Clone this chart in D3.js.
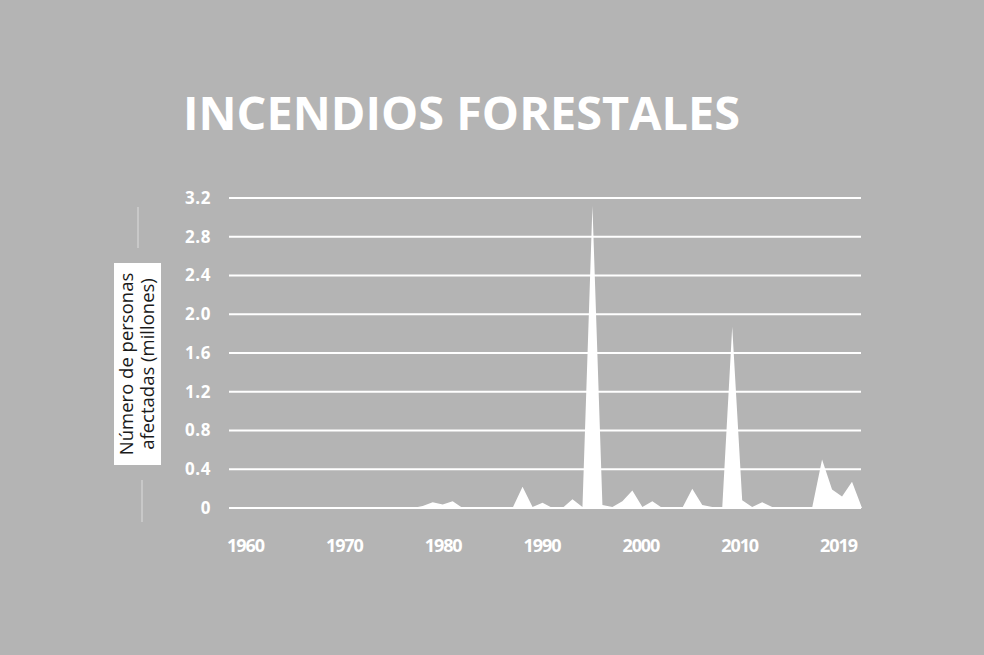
<!DOCTYPE html>
<html>
<head>
<meta charset="utf-8">
<script src="https://cdn.jsdelivr.net/npm/d3@7/dist/d3.min.js"></script>
<style>
  html, body { margin: 0; padding: 0; background: #b4b4b4; }
  svg { display: block; }
</style>
</head>
<body>
<script>
// ---- Data ----
const years = d3.range(1960, 2023);
const values = [
  // 1960-1969
  0, 0, 0, 0, 0, 0, 0, 0, 0, 0,
  // 1970-1979
  0, 0, 0, 0, 0, 0, 0, 0, 0.02, 0.06,
  // 1980-1989
  0.035, 0.07, 0, 0, 0, 0, 0, 0, 0.22, 0.01,
  // 1990-1999
  0.055, 0, 0, 0.09, 0.01, 3.12, 0.03, 0.01, 0.07, 0.18,
  // 2000-2009
  0.01, 0.07, 0, 0, 0, 0.2, 0.03, 0.01, 0, 1.87,
  // 2010-2019
  0.08, 0.01, 0.06, 0.01, 0, 0, 0, 0, 0.5, 0.19,
  // 2020-2022
  0.12, 0.27, 0
];
const yTicks = [0, 0.4, 0.8, 1.2, 1.6, 2.0, 2.4, 2.8, 3.2];
const xLabels = ["1960", "1970", "1980", "1990", "2000", "2010", "2019"];
const title = "INCENDIOS FORESTALES";
const yTitle = ["Número de personas", "afectadas (millones)"];

const data = years.map((yr, i) => ({ year: yr, value: values[i] }));

// ---- Layout ----
const W = 984, H = 655;
const svg = d3.select("body").append("svg").attr("width", W).attr("height", H);
svg.append("rect").attr("width", W).attr("height", H).attr("fill", "#b4b4b4");

const x = d3.scaleLinear().domain([1960, 2022]).range([243, 862]);
const y = d3.scaleLinear().domain([0, 3.2]).range([508, 198]);
const xl = d3.scalePoint().domain(xLabels).range([245, 838]);

const font = "'Open Sans', sans-serif";

// Title
svg.append("text")
  .attr("x", 183).attr("y", 130)
  .attr("font-family", font).attr("font-weight", 700)
  .attr("font-size", 47)
  .attr("textLength", 557).attr("lengthAdjust", "spacingAndGlyphs")
  .attr("fill", "#fff")
  .text(title);

// Gridlines
svg.append("g")
  .selectAll("line").data(yTicks).join("line")
  .attr("x1", 229).attr("x2", 861)
  .attr("y1", d => y(d)).attr("y2", d => y(d))
  .attr("stroke", "#fff").attr("stroke-width", 2);

// Area
const area = d3.area()
  .x(d => x(d.year))
  .y0(y(0))
  .y1(d => y(d.value));
svg.append("path").datum(data)
  .attr("d", area)
  .attr("fill", "#fff");

// Y axis
const yAxis = svg.append("g")
  .attr("transform", "translate(229,0)")
  .call(d3.axisLeft(y).tickValues(yTicks).tickSize(0).tickPadding(18)
    .tickFormat(d => d === 0 ? "0" : d3.format(".1f")(d)));
yAxis.select(".domain").remove();
yAxis.selectAll("text")
  .attr("font-family", font).attr("font-weight", 700)
  .attr("font-size", 17).attr("letter-spacing", 0.6)
  .attr("fill", "#fff");

// X axis labels
const xAxis = svg.append("g")
  .attr("transform", "translate(0,508)")
  .call(d3.axisBottom(xl).tickSize(0).tickPadding(31));
xAxis.select(".domain").remove();
xAxis.selectAll("text")
  .attr("font-family", font).attr("font-weight", 700)
  .attr("font-size", 18).attr("letter-spacing", -1.1)
  .attr("fill", "#fff");

// Y title box and lines
svg.append("line").attr("x1", 138).attr("x2", 138).attr("y1", 207).attr("y2", 248)
  .attr("stroke", "#dcdcdc").attr("stroke-width", 1);
svg.append("line").attr("x1", 142).attr("x2", 142).attr("y1", 480).attr("y2", 522)
  .attr("stroke", "#dcdcdc").attr("stroke-width", 1);
svg.append("rect").attr("x", 114).attr("y", 263).attr("width", 47).attr("height", 202)
  .attr("fill", "#fff");
const yt = svg.append("text")
  .attr("transform", "translate(137,364) rotate(-90)")
  .attr("text-anchor", "middle")
  .attr("font-family", font).attr("font-size", 18.5)
  .attr("fill", "#1a1a1a");
yt.selectAll("tspan").data(yTitle).join("tspan")
  .attr("x", 0)
  .attr("y", (d, i) => i === 0 ? -4 : 17)
  .text(d => d);
</script>
</body>
</html>
